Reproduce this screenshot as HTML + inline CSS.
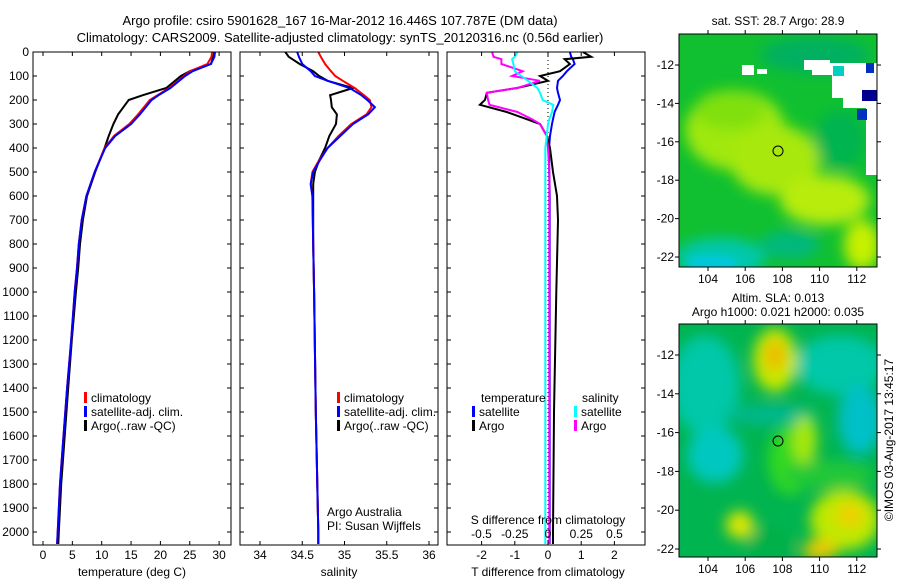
<!DOCTYPE html>
<html><head><meta charset="utf-8">
<style>
html,body{margin:0;padding:0;background:#fff;}
svg{display:block;font-family:"Liberation Sans",Arial,sans-serif;}
text{fill:#000;}
</style></head>
<body>
<svg id="fig" width="900" height="580" viewBox="0 0 900 580" xmlns="http://www.w3.org/2000/svg">
<defs>
<filter id="bl" x="-50%" y="-50%" width="200%" height="200%"><feGaussianBlur stdDeviation="7"/></filter>
<filter id="bl2" x="-50%" y="-50%" width="200%" height="200%"><feGaussianBlur stdDeviation="3"/></filter>
<clipPath id="c1"><rect x="679" y="34" width="198" height="233"/></clipPath>
<clipPath id="c2"><rect x="679" y="324" width="198" height="233"/></clipPath>
<clipPath id="p1"><rect x="33" y="52" width="198" height="493"/></clipPath>
<clipPath id="p2"><rect x="240" y="52" width="198" height="493"/></clipPath>
<clipPath id="p3"><rect x="447" y="52" width="198" height="493"/></clipPath>
</defs>
<text x="340" y="25" text-anchor="middle" font-size="13">Argo profile: csiro 5901628_167 16-Mar-2012 16.446S 107.787E (DM data)</text>
<text x="340" y="42" text-anchor="middle" font-size="13">Climatology: CARS2009. Satellite-adjusted climatology: synTS_20120316.nc (0.56d earlier)</text>

<g id="maps">
 <g clip-path="url(#c1)">
  <rect x="679" y="34" width="198" height="233" fill="#10c030"/>
  <g filter="url(#bl)">
   <ellipse cx="735" cy="130" rx="50" ry="40" fill="#a0e810"/>
   <ellipse cx="775" cy="160" rx="45" ry="35" fill="#a8e810"/>
   <ellipse cx="730" cy="110" rx="35" ry="20" fill="#80e010"/>
   <ellipse cx="825" cy="200" rx="45" ry="25" fill="#b8ec08"/>
   <ellipse cx="862" cy="245" rx="18" ry="25" fill="#c8f000"/>
   <ellipse cx="720" cy="258" rx="45" ry="20" fill="#00c8b0"/>
   <ellipse cx="790" cy="245" rx="30" ry="14" fill="#00b880"/>
   <ellipse cx="815" cy="55" rx="55" ry="18" fill="#00b060"/>
   <ellipse cx="840" cy="140" rx="25" ry="30" fill="#00b450"/>
  </g>
  <ellipse cx="712" cy="263" rx="25" ry="8" fill="#00c8d8" filter="url(#bl2)"/>
  <path d="M804,60 L830,60 L830,63 L877,63 L877,175 L866,175 L866,108 L843,108 L843,98 L832,98 L832,75 L812,75 L812,70 L804,70 Z" fill="#fff"/>
  <rect x="742" y="65" width="12" height="10" fill="#fff"/>
  <rect x="757" y="69" width="10" height="5" fill="#fff"/>
  <rect x="833" y="66" width="11" height="10" fill="#00d0c0"/>
  <rect x="866" y="63" width="8" height="10" fill="#0030c0"/>
  <rect x="862" y="90" width="15" height="11" fill="#000090"/>
  <rect x="857" y="109" width="10" height="11" fill="#0030c0"/>
  <circle cx="778" cy="151" r="5" fill="none" stroke="#000" stroke-width="1"/>
 </g>
 <rect x="679" y="34" width="198" height="233" fill="none" stroke="#000"/>
 <g clip-path="url(#c2)">
  <rect x="679" y="324" width="198" height="233" fill="#00b450"/>
  <g filter="url(#bl)">
   <ellipse cx="705" cy="385" rx="35" ry="50" fill="#00c8a8"/>
   <ellipse cx="715" cy="455" rx="28" ry="28" fill="#00c8c0"/>
   <ellipse cx="770" cy="415" rx="45" ry="10" fill="#00b890"/>
   <ellipse cx="840" cy="365" rx="45" ry="30" fill="#00c8a8"/>
   <ellipse cx="860" cy="420" rx="22" ry="35" fill="#00c0c8"/>
   <ellipse cx="775" cy="360" rx="22" ry="32" fill="#c8e800"/>
   <ellipse cx="775" cy="355" rx="10" ry="15" fill="#f0b800"/>
   <ellipse cx="790" cy="460" rx="22" ry="35" fill="#30d820"/>
   <ellipse cx="805" cy="440" rx="12" ry="25" fill="#a8e810"/>
   <ellipse cx="830" cy="475" rx="45" ry="14" fill="#20c838"/>
   <ellipse cx="740" cy="525" rx="14" ry="14" fill="#e0e800"/>
   <ellipse cx="845" cy="520" rx="35" ry="30" fill="#c0e800"/>
   <ellipse cx="850" cy="515" rx="14" ry="12" fill="#f0d000"/>
   <ellipse cx="820" cy="550" rx="18" ry="10" fill="#f0c800"/>
   <ellipse cx="770" cy="545" rx="22" ry="18" fill="#00b048"/>
  </g>
  <circle cx="778" cy="441" r="5" fill="none" stroke="#000" stroke-width="1"/>
 </g>
 <rect x="679" y="324" width="198" height="233" fill="none" stroke="#000"/>
 <text x="778" y="25" text-anchor="middle" font-size="12">sat. SST: 28.7 Argo: 28.9</text>
 <text x="778" y="302" text-anchor="middle" font-size="12">Altim. SLA: 0.013</text>
 <text x="778" y="316" text-anchor="middle" font-size="12">Argo h1000: 0.021 h2000: 0.035</text>
 <text transform="translate(893,440) rotate(-90)" text-anchor="middle" font-size="12">©IMOS 03-Aug-2017 13:45:17</text>
</g>

<g id="p1g"></g>
<g id="p2g"></g>
<g id="p3g"></g>
</svg>
<script>
// ---- data ----
const tempDepth = [0,20,50,80,100,150,180,200,260,300,350,400,500,600,700,800,900,1000,1200,1400,1600,1800,2000,2050];
const tempArgo  = [29.2,29.0,28.6,25,23.5,21,17,14.6,12.8,12,11.2,10.5,8.9,7.5,6.8,6.3,6.0,5.6,4.9,4.3,3.7,3.1,2.7,2.6];
const tempClim  = [28.8,28.7,28,25,24,21.5,19.5,18.2,16.2,14.7,12.1,10.5,8.8,7.4,6.6,6.1,5.8,5.4,4.8,4.1,3.5,2.9,2.5,2.4];
const tempSat   = [29.3,29.2,28.6,25.5,24.2,21.7,19.7,18.5,16.5,15,12.3,10.6,8.8,7.4,6.6,6.1,5.8,5.4,4.8,4.1,3.5,2.9,2.5,2.4];
const salDepth = [0,20,50,80,100,120,150,180,200,230,260,300,350,400,450,500,550,600,800,1000,1500,2000,2050];
const salArgo  = [34.30,34.34,34.47,34.63,34.70,34.80,35.10,34.83,34.84,34.85,34.91,34.90,34.82,34.77,34.70,34.65,34.63,34.63,34.63,34.64,34.66,34.69,34.69];
const salClim  = [34.69,34.72,34.77,34.84,34.89,34.98,35.12,35.23,35.30,35.32,35.26,35.08,34.93,34.80,34.70,34.62,34.60,34.62,34.63,34.64,34.66,34.69,34.69];
const salSat   = [34.44,34.46,34.50,34.60,34.65,34.80,35.06,35.20,35.27,35.36,35.28,35.10,34.95,34.80,34.71,34.63,34.60,34.62,34.63,34.64,34.66,34.69,34.69];
const diffDepth = [0,20,30,50,80,100,120,150,170,200,220,250,280,300,350,400,500,600,700,1000,1500,2000,2050];
const tDiffArgo = [1.05,1.3,0.5,0.66,0.36,-0.24,0,-0.93,-1.84,-1.9,-2.05,-1.24,-0.64,-0.24,-0.03,0.06,0.15,0.27,0.3,0.25,0.18,0.15,0.15];
const tDiffSat  = [0.66,0.7,0.75,0.8,0.57,0.45,0.3,0.27,0.3,0.36,0.3,0.2,0.15,0.12,0.06,0.03,0.04,0.05,0.05,0.05,0.05,0.05,0.05];
const sDiffArgo = [-0.42,-0.41,-0.35,-0.35,-0.19,-0.27,-0.06,-0.23,-0.46,-0.45,-0.44,-0.23,-0.12,-0.06,-0.01,0,0.01,0.01,0.01,0.01,0.01,0.01,0.01];
const sDiffSat  = [-0.23,-0.25,-0.27,-0.26,-0.25,-0.2,-0.15,-0.08,-0.06,-0.04,0.04,0.03,0.01,0,-0.01,-0.02,-0.02,-0.02,-0.02,-0.02,-0.02,-0.02,-0.02];
const depthTicks = [0,100,200,300,400,500,600,700,800,900,1000,1100,1200,1300,1400,1500,1600,1700,1800,1900,2000];
const tempTicks = [0,5,10,15,20,25,30];
const salTicks = [34,34.5,35,35.5,36];
const tDiffTicks = [-2,-1,0,1,2];
const sDiffTicks = [-0.5,-0.25,0,0.25,0.5];
const sDiffTickLabels = ['-0.5','-0.25','0','0.25','0.5'];
const mapLonTicks = [104,106,108,110,112];
const mapLatTicks = [-12,-14,-16,-18,-20,-22];

const NS='http://www.w3.org/2000/svg';
const TOP=52, BOT=545;
const yD = d => TOP + d*0.24;
function mk(parent,tag,attrs,txt){const e=document.createElementNS(NS,tag);for(const k in attrs)e.setAttribute(k,attrs[k]);if(txt!==undefined)e.textContent=txt;parent.appendChild(e);return e;}
const xT = v => 43 + v*5.87;
const xS = v => 260 + (v-34)*84.5;
const xTD = v => 548 + v*33.2;
const xSD = v => 548 + v*133;

function frame(g,x0,showDepthLabels,name){
  const r=mk(g,'rect',{x:x0,y:TOP,width:198,height:BOT-TOP,fill:'none',stroke:'#000'});
  
  
  depthTicks.forEach(d=>{
    const y=yD(d);
    mk(g,'line',{x1:x0,x2:x0+4,y1:y,y2:y,stroke:'#000'});
    mk(g,'line',{x1:x0+198,x2:x0+194,y1:y,y2:y,stroke:'#000'});
    if(showDepthLabels){
      const t=mk(g,'text',{x:x0-4,y:y+4,'text-anchor':'end','font-size':12},String(d));
      
      
    }
  });
}
function xticks(g,ticks,fx,labels,ly,bottomOnly){
  ticks.forEach((v,i)=>{
    const x=fx(v);
    mk(g,'line',{x1:x,x2:x,y1:BOT,y2:BOT-4,stroke:'#000'});
    if(!bottomOnly) mk(g,'line',{x1:x,x2:x,y1:TOP,y2:TOP+4,stroke:'#000'});
    const t=mk(g,'text',{x:x,y:ly,'text-anchor':'middle','font-size':12},labels[i]);
    
    
  });
}
function line(g,depths,vals,fx,color,clip,name){
  const pts=depths.map((d,i)=>fx(vals[i]).toFixed(1)+','+yD(d).toFixed(1)).join(' ');
  const p=mk(g,'polyline',{points:pts,fill:'none',stroke:color,'stroke-width':2,'clip-path':'url(#'+clip+')'});
  
  
}
function legend(g,x,y,color,label,name){
  mk(g,'rect',{x:x,y:y-10,width:3,height:11,fill:color});
  const t=mk(g,'text',{x:x+7,y:y,'font-size':12},label);
  
  
}
function label(g,x,y,txt,name,anchor){
  const t=mk(g,'text',{x:x,y:y,'text-anchor':anchor||'middle','font-size':12},txt);
  
  
}

// panel 1
const g1=document.getElementById('p1g');
line(g1,tempDepth,tempArgo,xT,'#000','p1','temp-argo-line');
line(g1,tempDepth,tempClim,xT,'#f00','p1','temp-climatology-line');
line(g1,tempDepth,tempSat,xT,'#00f','p1','temp-satellite-line');
frame(g1,33,true,'temperature-panel');
xticks(g1,tempTicks,xT,tempTicks.map(String),559,false);
label(g1,132,576,'temperature (deg C)','x-axis-title-temperature');
legend(g1,84,402,'#f00','climatology','legend-climatology');
legend(g1,84,416,'#00f','satellite-adj. clim.','legend-satellite');
legend(g1,84,430,'#000','Argo(..raw -QC)','legend-argo');

// panel 2
const g2=document.getElementById('p2g');
line(g2,salDepth,salArgo,xS,'#000','p2','sal-argo-line');
line(g2,salDepth,salClim,xS,'#f00','p2','sal-climatology-line');
line(g2,salDepth,salSat,xS,'#00f','p2','sal-satellite-line');
frame(g2,240,false,'salinity-panel');
xticks(g2,salTicks,xS,salTicks.map(String),559,false);
label(g2,339,576,'salinity','x-axis-title-salinity');
legend(g2,337,402,'#f00','climatology','legend-climatology-2');
legend(g2,337,416,'#00f','satellite-adj. clim.','legend-satellite-2');
legend(g2,337,430,'#000','Argo(..raw -QC)','legend-argo-2');
label(g2,327,516,'Argo Australia','credit-argo-australia','start');
label(g2,327,530,'PI: Susan Wijffels','credit-pi','start');

// panel 3
const g3=document.getElementById('p3g');
mk(g3,'line',{x1:548,x2:548,y1:TOP,y2:BOT,stroke:'#000','stroke-dasharray':'1,3'});
line(g3,diffDepth,tDiffSat,xTD,'#00f','p3','tdiff-satellite-line');
line(g3,diffDepth,tDiffArgo,xTD,'#000','p3','tdiff-argo-line');
line(g3,diffDepth,sDiffArgo,xSD,'#f0f','p3','sdiff-argo-line');
line(g3,diffDepth,sDiffSat,xSD,'#0ff','p3','sdiff-satellite-line');
frame(g3,447,false,'difference-panel');
xticks(g3,tDiffTicks,xTD,tDiffTicks.map(String),559,false);
sDiffTicks.forEach((v,i)=>{
  const t=mk(g3,'text',{x:xSD(v),y:538,'text-anchor':'middle','font-size':12},sDiffTickLabels[i]);
  
  
});
label(g3,548,524,'S difference from climatology','s-diff-axis-title');
label(g3,548,576,'T difference from climatology','t-diff-axis-title');
label(g3,481,402,'temperature','legend-temperature-heading','start');
legend(g3,472,416,'#00f','satellite','legend-t-satellite');
legend(g3,472,430,'#000','Argo','legend-t-argo');
label(g3,582,402,'salinity','legend-salinity-heading','start');
legend(g3,574,416,'#0ff','satellite','legend-s-satellite');
legend(g3,574,430,'#f0f','Argo','legend-s-argo');

// map axes
const maps=document.getElementById('maps');
function mapAxes(y0,y1,lat12y,per,lx){
  mapLonTicks.forEach(l=>{
    const x=708+(l-104)*18.6;
    mk(maps,'line',{x1:x,x2:x,y1:y1,y2:y1+4,stroke:'#000'});
    mk(maps,'line',{x1:x,x2:x,y1:y0,y2:y0-4,stroke:'#000'});
    const t=mk(maps,'text',{x:x,y:lx,'text-anchor':'middle','font-size':12},String(l));
    
    
  });
  mapLatTicks.forEach(l=>{
    const y=lat12y+(-12-l)*per;
    mk(maps,'line',{x1:877,x2:881,y1:y,y2:y,stroke:'#000'});
    mk(maps,'line',{x1:679,x2:675,y1:y,y2:y,stroke:'#000'});
    const t=mk(maps,'text',{x:674,y:y+4,'text-anchor':'end','font-size':12},String(l));
    
    
  });
}
mapAxes(34,267,65,19.2,283);
mapAxes(324,557,355,19.4,573);
</script>
</body></html>
